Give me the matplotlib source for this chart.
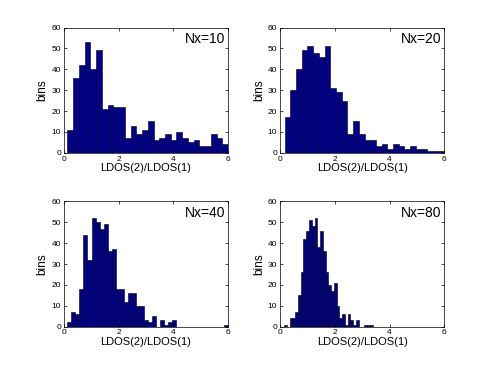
import numpy as np
import matplotlib
matplotlib.use("Agg")
import matplotlib.pyplot as plt

plt.rcParams['font.family'] = ['Liberation Sans', 'DejaVu Sans']

# bin counts
counts_nx10 = [11, 36, 42, 53, 40, 49, 21, 23, 22, 22, 7, 13, 9, 11, 15,
               6, 7, 9, 6, 10, 7, 5, 6, 3, 3, 9, 7, 4]
counts_nx20 = [17, 30, 40, 49, 51, 48, 46, 51, 31, 29, 25, 9, 15, 9, 6,
               6, 3, 4, 2, 4, 3, 2, 3, 2, 2, 1, 1, 1]
counts_nx40 = [2, 7, 6, 18, 44, 32, 52, 50, 47, 49, 36, 37, 18, 18, 12,
               16, 16, 10, 10, 3, 2, 5, 0, 3, 1, 2, 3, 0, 0, 0,
               0, 0, 0, 0, 0, 0, 0, 0, 0, 1]
counts_nx80 = [1, 0, 4, 4, 7, 15, 26, 42, 46, 51, 48, 52, 38, 46, 36,
               26, 20, 17, 21, 10, 4, 6, 1, 6, 3, 1, 3, 0, 0, 1, 1, 1]

# data range (min, max) of each histogram
range_nx10 = (0.13, 6.0)
range_nx20 = (0.17, 6.0)
range_nx40 = (0.13, 6.0)
range_nx80 = (0.15, 3.38)

labels = ['Nx=10', 'Nx=20', 'Nx=40', 'Nx=80']
all_counts = [counts_nx10, counts_nx20, counts_nx40, counts_nx80]
all_ranges = [range_nx10, range_nx20, range_nx40, range_nx80]

# matlab default subplot positions
positions = [[0.13, 0.5838, 0.3347, 0.3412],
             [0.5703, 0.5838, 0.3347, 0.3412],
             [0.13, 0.11, 0.3347, 0.3412],
             [0.5703, 0.11, 0.3347, 0.3412]]

fig = plt.figure(figsize=(4.91, 3.67), dpi=100)

for pos, counts, rng, lab in zip(positions, all_counts, all_ranges, labels):
    ax = fig.add_axes(pos)
    edges = np.linspace(rng[0], rng[1], len(counts) + 1)
    ax.bar(edges[:-1], counts, width=np.diff(edges), align='edge',
           color='#00008c', edgecolor='black', linewidth=0.4)
    ax.set_xlim(0, 6)
    ax.set_ylim(0, 60)
    ax.set_xticks([0, 2, 4, 6])
    ax.set_yticks(range(0, 61, 10))
    ax.tick_params(direction='in', top=True, right=True, length=2.5,
                   width=0.5, labelsize=6, pad=2)
    for s in ax.spines.values():
        s.set_linewidth(0.5)
    ax.set_xlabel('LDOS(2)/LDOS(1)', fontsize=8, labelpad=0.5)
    ax.set_ylabel('bins', fontsize=8.5, labelpad=2)
    ax.text(0.98, 0.877, lab, transform=ax.transAxes, ha='right',
            va='baseline', fontsize=10)

fig.savefig('out.png', dpi=100)
